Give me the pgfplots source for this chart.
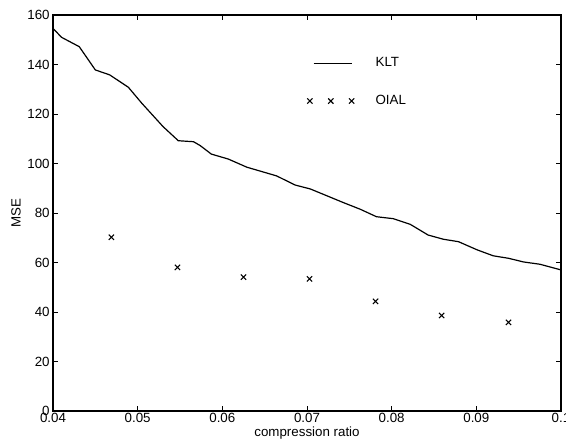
\documentclass[border=0pt]{standalone}
\usepackage{fontspec}
\setmainfont{Liberation Sans}
\usepackage{pgfplots}
\pgfplotsset{compat=1.18}

\begin{document}
\begin{tikzpicture}
\begin{axis}[
scale only axis,
width=381pt, height=297pt,
xmin=0.04, xmax=0.1,
ymin=0, ymax=160,
xtick={0.04,0.05,0.06,0.07,0.08,0.09,0.1},
xticklabels={0.04,0.05,0.06,0.07,0.08,0.09,0.1},
ytick={0,20,40,60,80,100,120,140,160},
tick align=inside,
major tick length=4pt,
axis line style={line width=0.9pt},
tick style={line width=0.7pt, black},
/pgf/number format/assume math mode=true,
ticklabel style={font=\fontsize{10}{11}\selectfont},
xticklabel style={yshift=2pt},
yticklabel style={xshift=1pt},
label style={font=\fontsize{10}{11}\selectfont},
xlabel={compression ratio},
ylabel={MSE},
xlabel style={at={(axis description cs:0.5,-0.056)}, anchor=center},
ylabel style={at={(axis description cs:-0.073,0.5)}, anchor=center},
legend style={draw=none, fill=none, inner sep=0pt, at={(0.5,0.9)}, anchor=north west,
  font=\fontsize{10}{11}\selectfont, row sep=16pt, column sep=14pt},
legend cell align={left},
]
\addplot [black, line width=0.9pt,
  legend image code/.code={\draw[black, line width=0.7pt] (0.1cm,0cm) -- (1.1cm,0cm);}]
coordinates {
(0.0400,154.6) (0.0410,151.0) (0.0431,147.2) (0.0450,137.8) (0.0467,135.8)
(0.0489,130.8) (0.0505,124.3) (0.0530,114.9) (0.0548,109.2) (0.0566,108.8)
(0.0574,107.2) (0.0587,103.8) (0.0607,101.8) (0.0629,98.5) (0.0664,95.0)
(0.0686,91.3) (0.0704,89.7) (0.0743,84.2) (0.0763,81.5) (0.0782,78.5)
(0.0802,77.7) (0.0822,75.4) (0.0843,71.1) (0.0861,69.4) (0.0879,68.4)
(0.0901,65.1) (0.0920,62.7) (0.0938,61.7) (0.0956,60.2) (0.0975,59.3)
(0.1000,57.0)
};
\addlegendentry{KLT}
\addplot [black, only marks, mark=x, mark size=2.8pt, line width=0.8pt,
  legend image code/.code={\draw[black, line width=0.8pt] plot[only marks, mark=x, mark size=2.8pt] coordinates {(0cm,0cm) (0.55cm,0cm) (1.1cm,0cm)};}]
coordinates {
(0.0469,70.2) (0.0547,58.0) (0.0625,54.1) (0.0703,53.4) (0.0781,44.3) (0.0859,38.6) (0.0938,35.8)
};
\addlegendentry{OIAL}
\end{axis}
\pgfresetboundingbox
\path[use as bounding box] ([shift={(-39.75pt,-25.5pt)}]current axis.south west)
  rectangle ([shift={(3.75pt,11.25pt)}]current axis.north east);
\end{tikzpicture}
\end{document}
